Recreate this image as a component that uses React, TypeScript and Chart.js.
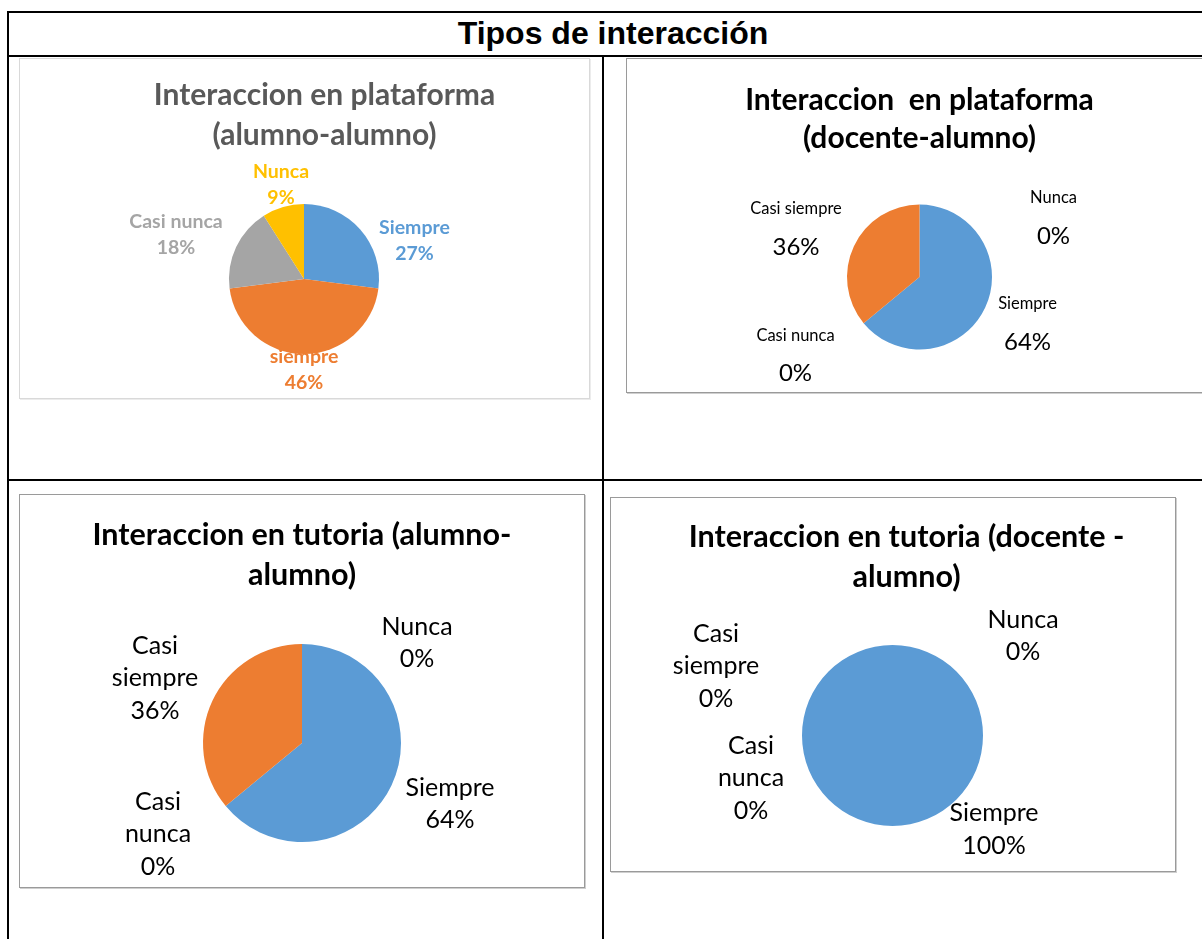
import React, { useEffect, useRef } from 'react';
import { Chart, registerables } from 'chart.js';

Chart.register(...registerables);

// ---------- data ----------
const CATEGORIES = ['Siempre', 'Casi siempre', 'Casi nunca', 'Nunca'];
const SLICE_COLORS = ['#5B9BD5', '#ED7D31', '#A5A5A5', '#FFC000'];

const PLATAFORMA_ALUMNO = [27, 46, 18, 9];
const PLATAFORMA_DOCENTE = [64, 36, 0, 0];
const TUTORIA_ALUMNO = [64, 36, 0, 0];
const TUTORIA_DOCENTE = [100, 0, 0, 0];

const MAIN_TITLE = 'Tipos de interacción';
const TITLE_PLATAFORMA_ALUMNO = ['Interaccion en plataforma', '(alumno-alumno)'];
const TITLE_PLATAFORMA_DOCENTE = ['Interaccion  en plataforma', '(docente-alumno)'];
const TITLE_TUTORIA_ALUMNO = ['Interaccion en tutoria (alumno-', 'alumno)'];
const TITLE_TUTORIA_DOCENTE = ['Interaccion en tutoria (docente -', 'alumno)'];

// category names as they are wrapped in each chart's data labels
const NAMES_CHART1 = [['Siempre'], ['Casi', 'siempre'], ['Casi nunca'], ['Nunca']];
const NAMES_ONE_LINE = [['Siempre'], ['Casi siempre'], ['Casi nunca'], ['Nunca']];
const NAMES_WRAPPED = [['Siempre'], ['Casi', 'siempre'], ['Casi', 'nunca'], ['Nunca']];

// ---------- layout / style ----------
const FONT = 'Lato, "Open Sans", sans-serif';

type Panel = {
  key: string;
  values: number[];
  title: string[];
  names: string[][];
  box: { left: number; top: number; width: number; height: number; border: string; shadow: string };
  pie: { cx: number; cy: number; r: number };
  titleStyle: { x: number; y: number; gap: number; size: number; color: string };
  labelStyle: {
    offsets: number[][];
    gap: number;
    nameSize: number;
    valueSize: number;
    bold: boolean;
    colorBySlice: boolean;
    color: string;
    under: boolean;
  };
};

const PANELS: Panel[] = [
  {
    key: 'p1',
    values: PLATAFORMA_ALUMNO,
    title: TITLE_PLATAFORMA_ALUMNO,
    names: NAMES_CHART1,
    box: { left: 19, top: 58, width: 571, height: 341, border: '#d9d9d9', shadow: '#ececec' },
    pie: { cx: 284, cy: 220, r: 75 },
    titleStyle: { x: 304.5, y: 36, gap: 40, size: 30, color: '#595959' },
    labelStyle: {
      offsets: [[110.5, -38], [0, 78], [-128, -44], [-23, -94]],
      gap: 26,
      nameSize: 19.5,
      valueSize: 19.5,
      bold: true,
      colorBySlice: true,
      color: '#404040',
      under: true,
    },
  },
  {
    key: 'p2',
    values: PLATAFORMA_DOCENTE,
    title: TITLE_PLATAFORMA_DOCENTE,
    names: NAMES_ONE_LINE,
    box: { left: 626, top: 58, width: 587, height: 335, border: '#9a9a9a', shadow: '#cfcfcf' },
    pie: { cx: 292.5, cy: 218, r: 72.5 },
    titleStyle: { x: 292.5, y: 41, gap: 38, size: 30, color: '#000000' },
    labelStyle: {
      offsets: [[108, 46], [-123.5, -49], [-124, 77.5], [134, -60]],
      gap: 38,
      nameSize: 16.5,
      valueSize: 24,
      bold: false,
      colorBySlice: false,
      color: '#000000',
      under: false,
    },
  },
  {
    key: 'p3',
    values: TUTORIA_ALUMNO,
    title: TITLE_TUTORIA_ALUMNO,
    names: NAMES_WRAPPED,
    box: { left: 19, top: 494, width: 566, height: 394, border: '#9a9a9a', shadow: '#cfcfcf' },
    pie: { cx: 282, cy: 248, r: 99 },
    titleStyle: { x: 282, y: 40, gap: 40, size: 30.5, color: '#000000' },
    labelStyle: {
      offsets: [[148, 61], [-147, -65], [-144, 91], [115, -100]],
      gap: 32.5,
      nameSize: 25,
      valueSize: 25,
      bold: false,
      colorBySlice: false,
      color: '#000000',
      under: false,
    },
  },
  {
    key: 'p4',
    values: TUTORIA_DOCENTE,
    title: TITLE_TUTORIA_DOCENTE,
    names: NAMES_WRAPPED,
    box: { left: 610, top: 497, width: 566, height: 375, border: '#9a9a9a', shadow: '#cfcfcf' },
    pie: { cx: 281.5, cy: 237.5, r: 90.5 },
    titleStyle: { x: 295.5, y: 39, gap: 40, size: 30.5, color: '#000000' },
    labelStyle: {
      offsets: [[101.5, 94], [-176.5, -69.5], [-141.5, 42.5], [130.5, -99.5]],
      gap: 32.5,
      nameSize: 25,
      valueSize: 25,
      bold: false,
      colorBySlice: false,
      color: '#000000',
      under: false,
    },
  },
];

function pct(values: number[], i: number) {
  const total = values.reduce((a, b) => a + b, 0);
  return Math.round((values[i] / total) * 100) + '%';
}

function makeTextPlugin(p: Panel) {
  const drawLabels = (chart: any) => {
    const meta = chart.getDatasetMeta(0);
    const ctx = chart.ctx as CanvasRenderingContext2D;
    const ls = p.labelStyle;
    ctx.save();
    ctx.textAlign = 'center';
    ctx.textBaseline = 'middle';
    meta.data.forEach((arc: any, i: number) => {
      const lines = [...p.names[i], pct(p.values, i)];
      const [dx, dy] = ls.offsets[i];
      const bx = arc.x + dx;
      const by = arc.y + dy;
      ctx.fillStyle = ls.colorBySlice ? SLICE_COLORS[i] : ls.color;
      lines.forEach((line, k) => {
        const isValue = k === lines.length - 1;
        const size = isValue ? ls.valueSize : ls.nameSize;
        ctx.font = `${ls.bold ? 'bold ' : ''}${size}px ${FONT}`;
        const y = by + (k - (lines.length - 1) / 2) * ls.gap;
        ctx.fillText(line, bx, y);
      });
    });
    ctx.restore();
  };
  return {
    id: 'panelText_' + p.key,
    beforeDatasetsDraw(chart: any) {
      if (p.labelStyle.under) drawLabels(chart);
    },
    afterDatasetsDraw(chart: any) {
      if (!p.labelStyle.under) drawLabels(chart);
    },
    afterDraw(chart: any) {
      const ctx = chart.ctx as CanvasRenderingContext2D;
      const ts = p.titleStyle;
      ctx.save();
      ctx.textAlign = 'center';
      ctx.textBaseline = 'middle';
      ctx.fillStyle = ts.color;
      ctx.font = `bold ${ts.size}px ${FONT}`;
      p.title.forEach((line, k) => ctx.fillText(line, ts.x, ts.y + k * ts.gap));
      ctx.restore();
    },
  };
}

function PiePanel({ p }: { p: Panel }) {
  const ref = useRef<HTMLCanvasElement | null>(null);
  const W = p.box.width - 2;
  const H = p.box.height - 2;
  useEffect(() => {
    if (!ref.current) return;
    const { cx, cy, r } = p.pie;
    const hw = Math.min(cx, W - cx);
    const hh = Math.min(cy, H - cy);
    const chart = new Chart(ref.current, {
      type: 'pie',
      data: {
        labels: CATEGORIES,
        datasets: [
          {
            data: p.values,
            backgroundColor: SLICE_COLORS,
            borderWidth: 0,
            radius: r,
          } as any,
        ],
      },
      options: {
        responsive: false,
        animation: false,
        devicePixelRatio: 1,
        events: [],
        layout: {
          padding: { left: cx - hw, right: W - cx - hw, top: cy - hh, bottom: H - cy - hh },
        },
        plugins: {
          legend: { display: false },
          title: { display: false },
          tooltip: { enabled: false },
        },
      } as any,
      plugins: [makeTextPlugin(p)],
    });
    return () => chart.destroy();
  }, []);
  return (
    <div
      style={{
        position: 'absolute',
        left: p.box.left,
        top: p.box.top,
        width: p.box.width,
        height: p.box.height,
        boxSizing: 'border-box',
        border: `1px solid ${p.box.border}`,
        boxShadow: `1px 1px 0 ${p.box.shadow}`,
        background: '#ffffff',
      }}
    >
      <canvas ref={ref} width={W} height={H} style={{ display: 'block', width: W, height: H }} />
    </div>
  );
}

const line = (left: number, top: number, width: number, height: number) => (
  <div style={{ position: 'absolute', left, top, width, height, background: '#000' }} />
);

export default function App() {
  return (
    <div
      style={{
        position: 'absolute',
        left: 0,
        top: 0,
        width: 1202,
        height: 939,
        overflow: 'hidden',
        background: '#ffffff',
      }}
    >
      {line(7, 11, 1220, 2)}
      {line(7, 11, 2, 940)}
      {line(7, 55, 1220, 2)}
      {line(602, 55, 2, 900)}
      {line(7, 479, 1220, 2)}
      <div
        style={{
          position: 'absolute',
          left: 9,
          top: 12,
          width: 1208,
          height: 42,
          lineHeight: '42px',
          textAlign: 'center',
          fontFamily: '"Liberation Sans", Arial, sans-serif',
          fontWeight: 'bold',
          fontSize: 32,
          color: '#000',
        }}
      >
        {MAIN_TITLE}
      </div>
      {PANELS.map((p) => (
        <PiePanel key={p.key} p={p} />
      ))}
    </div>
  );
}
